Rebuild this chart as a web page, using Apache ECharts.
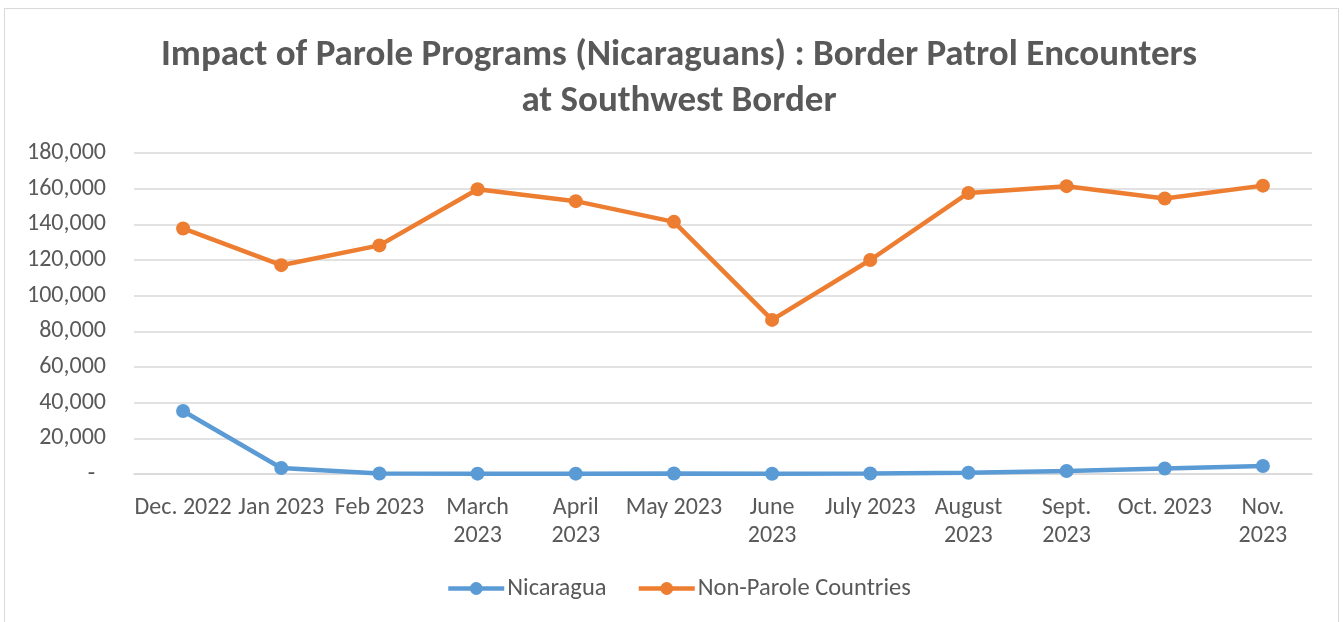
<!DOCTYPE html>
<html>
<head>
<meta charset="utf-8">
<script src="https://cdn.jsdelivr.net/npm/echarts@6/dist/echarts.min.js"></script>
<style>
	html, body { margin: 0; padding: 0; background: #fff; }
	#frame { position: absolute; left: 4px; top: 8px; width: 1335px; height: 620px; border: 1px solid #d9d9d9; box-sizing: border-box; }
	#chart { position: absolute; left: 0; top: 0; width: 1343px; height: 622px; }
</style>
</head>
<body>
<div id="frame"></div>
<div id="chart"></div>
<script>
	// categories and values
	var months = ['Dec. 2022', 'Jan 2023', 'Feb 2023', 'March\n2023', 'April\n2023', 'May 2023', 'June\n2023', 'July 2023', 'August\n2023', 'Sept.\n2023', 'Oct. 2023', 'Nov.\n2023'];
	var nicaragua = [35300, 3400, 300, 200, 200, 300, 150, 250, 700, 1700, 3100, 4500];
	var nonParole = [137700, 117100, 128200, 159700, 153000, 141400, 86400, 120000, 157600, 161400, 154500, 161700];
	var seriesNames = ['Nicaragua', 'Non-Parole Countries'];
	var seriesColors = ['#5b9bd5', '#ed7d31'];

	var textColor = '#595959';
	var font = 'Calibri, Carlito, "Open Sans", sans-serif';

	function lineSeries(name, data, color) {
		return {
			name: name,
			type: 'line',
			data: data,
			symbol: 'circle',
			symbolSize: 14,
			lineStyle: { width: 4.5, color: color },
			itemStyle: { color: color },
			emphasis: { disabled: true }
		};
	}

	var chart = echarts.init(document.getElementById('chart'));
	chart.setOption({
		animation: false,
		textStyle: { fontFamily: font },
		title: {
			text: 'Impact of Parole Programs (Nicaraguans) : Border Patrol Encounters\nat Southwest Border',
			left: 674,
			textAlign: 'center',
			top: 28,
			textStyle: { fontFamily: font, fontSize: 37, fontWeight: 'bold', color: textColor, lineHeight: 46 }
		},
		legend: {
			data: seriesNames,
			bottom: 16,
			left: 441,
			itemWidth: 56,
			itemHeight: 16,
			itemGap: 30,
			lineStyle: { width: 4.5 },
			textStyle: { fontSize: 24.5, color: textColor, fontFamily: font, padding: [0, 0, 0, -2] }
		},
		grid: { left: 134, right: 31, top: 153, bottom: 148 },
		xAxis: {
			type: 'category',
			data: months,
			axisLine: { lineStyle: { color: '#d9d9d9', width: 1.5 } },
			axisTick: { show: false },
			axisLabel: { interval: 0, color: textColor, fontSize: 24, lineHeight: 28, margin: 20 }
		},
		yAxis: {
			type: 'value',
			min: 0,
			max: 180000,
			interval: 20000,
			axisLine: { show: false },
			axisTick: { show: false },
			splitLine: { lineStyle: { color: '#d9d9d9', width: 1.5 } },
			axisLabel: {
				color: textColor,
				fontSize: 24,
				margin: 28,
				formatter: function (v) { return v === 0 ? '-  ' : v.toLocaleString('en-US'); }
			}
		},
		series: [
			lineSeries(seriesNames[0], nicaragua, seriesColors[0]),
			lineSeries(seriesNames[1], nonParole, seriesColors[1])
		]
	});
</script>
</body>
</html>
